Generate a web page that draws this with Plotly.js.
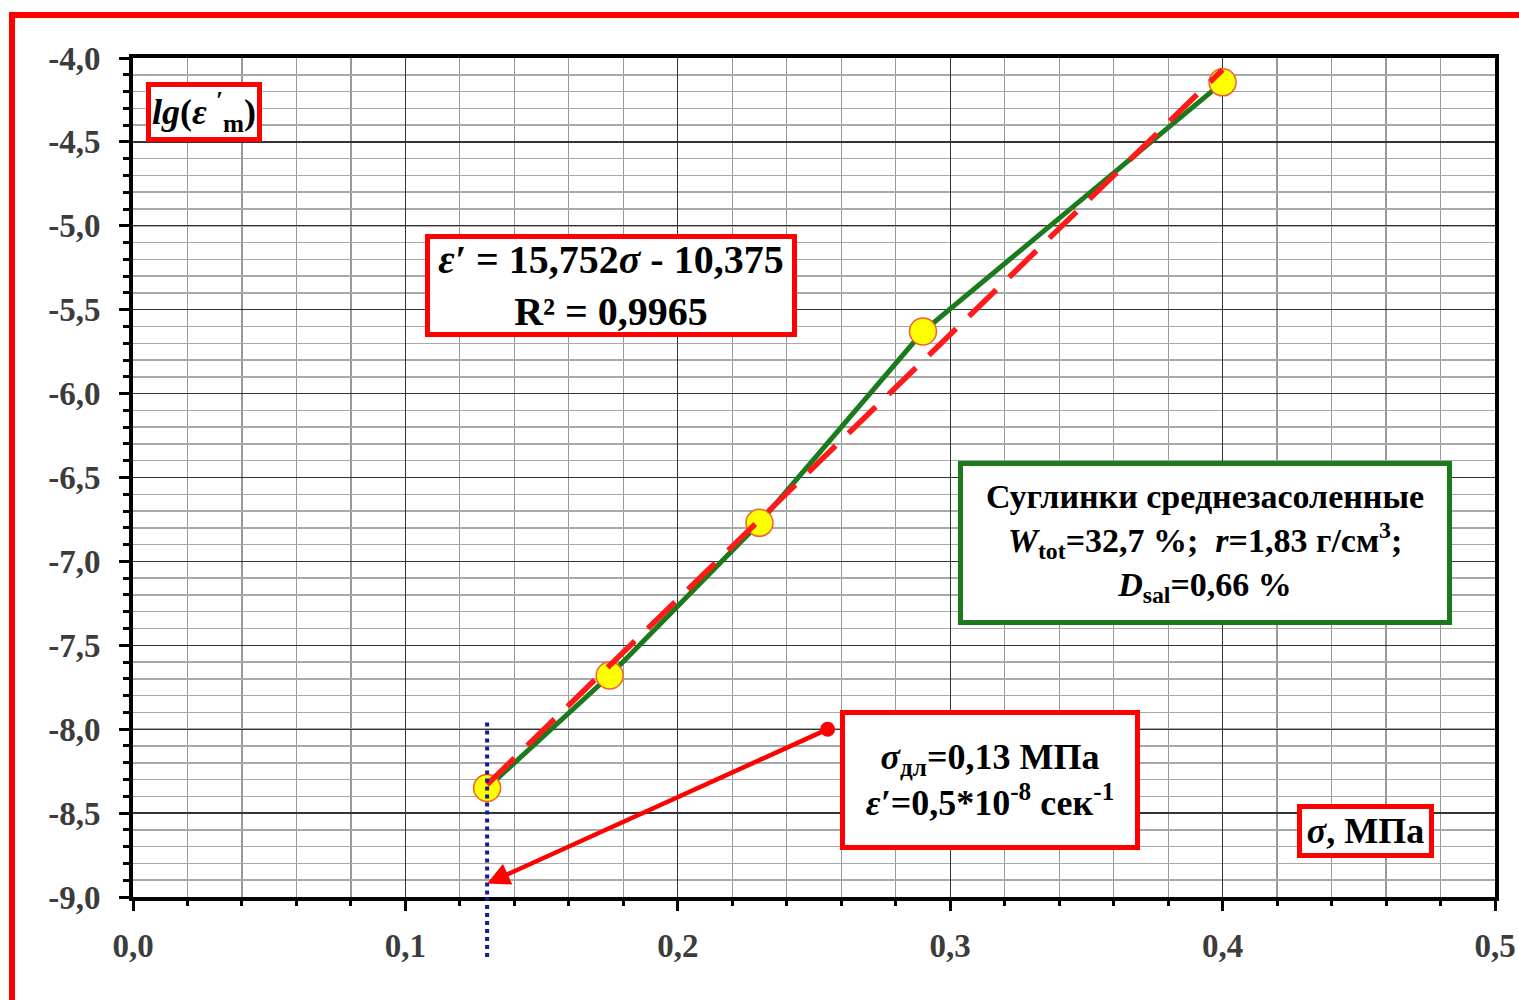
<!DOCTYPE html>
<html>
<head>
<meta charset="utf-8">
<script src="https://cdn.plot.ly/plotly-3.0.1.min.js"></script>
<style>
  html, body { margin: 0; padding: 0; background: #fff; overflow: hidden; }
  #chart { position: absolute; left: 0; top: 0; width: 1519px; height: 1000px; }
  #frame { position: absolute; left: 9px; top: 12px; width: 1600px; height: 1100px;
           border-left: 6px solid #ff0000; border-top: 6px solid #ff0000; pointer-events: none; }
</style>
</head>
<body>
<div id="chart"></div>
<div id="frame"></div>
<script>
// ---- data ----
const sigma = [0.13, 0.175, 0.23, 0.29, 0.40];            // σ, МПа
const lgStrainRate = [-8.35, -7.68, -6.77, -5.63, -4.145];  // lg(ε′m)
const trendSigma = [0.13, 0.40];
const trendLg = [-8.33, -4.07];
const sigmaDl = 0.13;           // long-term strength
const sigmaDlTop = -7.96;       // top of dotted marker line
const arrowStart = {x: 0.255, y: -8.0};
const arrowEnd = {x: 0.13, y: -8.92};

const xTickVals = [0, 0.1, 0.2, 0.3, 0.4, 0.5];
const xTickText = ["0,0", "0,1", "0,2", "0,3", "0,4", "0,5"];
const yTickVals = [-9, -8.5, -8, -7.5, -7, -6.5, -6, -5.5, -5, -4.5, -4];
const yTickText = ["-9,0", "-8,5", "-8,0", "-7,5", "-7,0", "-6,5", "-6,0", "-5,5", "-5,0", "-4,5", "-4,0"];

const serif = "Liberation Serif, Times New Roman, serif";

const traces = [
  {
    x: sigma, y: lgStrainRate, type: "scatter", mode: "lines+markers",
    line: {color: "#1b7a1b", width: 5},
    marker: {size: 27, color: "#ffff00", line: {color: "#f06030", width: 1.5}},
    showlegend: false, hoverinfo: "x+y"
  },
  {
    x: trendSigma, y: trendLg, type: "scatter", mode: "lines",
    line: {color: "#ff1a1a", width: 5.5, dash: "38px,18px"},
    showlegend: false, hoverinfo: "skip"
  },
  {
    x: [arrowStart.x], y: [arrowStart.y], type: "scatter", mode: "markers",
    marker: {size: 15, color: "#ff0000"}, showlegend: false, hoverinfo: "skip"
  }
];

const xMin = 0, xMax = 0.5;

const layout = {
  width: 1519, height: 1000,
  margin: {l: 133, r: 24, t: 58, b: 103},
  paper_bgcolor: "#ffffff", plot_bgcolor: "#ffffff",
  separators: ", ",
  font: {family: serif, color: "#000"},
  showlegend: false,
  xaxis: {
    range: [xMin, xMax], tickmode: "array", tickvals: xTickVals, ticktext: xTickText,
    ticks: "outside", ticklen: 10, tickwidth: 3, tickcolor: "#000",
    showline: true, linewidth: 4, linecolor: "#000", mirror: true,
    showgrid: true, gridcolor: "#333", gridwidth: 1.3, zeroline: false,
    tickfont: {family: serif, size: 33, color: "#3c3c3c", weight: "bold"},
    ticklabelstandoff: 6,
    minor: {dtick: 0.02, tick0: 0, ticks: "outside", ticklen: 5, tickwidth: 3, tickcolor: "#000",
            showgrid: true, gridcolor: "#999", gridwidth: 1.2}
  },
  yaxis: {
    range: [-9, -4], tickmode: "array", tickvals: yTickVals, ticktext: yTickText,
    ticks: "outside", ticklen: 10, tickwidth: 3, tickcolor: "#000",
    showline: true, linewidth: 4, linecolor: "#000", mirror: true,
    showgrid: true, gridcolor: "#333", gridwidth: 1.3, zeroline: false,
    tickfont: {family: serif, size: 33, color: "#3c3c3c", weight: "bold"},
    ticklabelstandoff: 12,
    minor: {dtick: 0.1, tick0: -9, ticks: "outside", ticklen: 6, tickwidth: 3, tickcolor: "#000",
            showgrid: true, gridcolor: "#a8a8a8", gridwidth: 1.5}
  },
  shapes: [
    {type: "line", xref: "paper", yref: "y", x0: (sigmaDl - xMin) / (xMax - xMin), x1: (sigmaDl - xMin) / (xMax - xMin),
     y0: sigmaDlTop, y1: -9, line: {color: "#1a1a99", width: 4, dash: "dot"}},
    {type: "line", xref: "paper", yref: "paper", x0: (sigmaDl - xMin) / (xMax - xMin), x1: (sigmaDl - xMin) / (xMax - xMin),
     y0: 0, y1: -0.072, line: {color: "#1a1a99", width: 4, dash: "dot"}}
  ],
  annotations: [
    {x: arrowEnd.x, y: arrowEnd.y, xref: "x", yref: "y", ax: arrowStart.x, ay: arrowStart.y,
     axref: "x", ayref: "y", showarrow: true, arrowhead: 2, arrowsize: 1, arrowwidth: 4.5,
     arrowcolor: "#ff0000", text: ""},
    {x: 0.1755, y: -5.353, xref: "x", yref: "y", showarrow: false,
     text: "<b><i>ε′</i> = 15,752<i>σ</i> - 10,375<br>R² = 0,9965</b>",
     font: {family: serif, size: 40, color: "#000"},
     bgcolor: "#fff", bordercolor: "#ff0000", borderwidth: 5, borderpad: 0, width: 362, height: 93},
    {x: 0.3935, y: -6.89, xref: "x", yref: "y", showarrow: false,
     text: "<b>Суглинки среднезасоленные<br><i>W</i><sub>tot</sub>=32,7 %;  <i>r</i>=1,83 г/см<sup>3</sup>;<br><i>D</i><sub>sal</sub>=0,66 %</b>",
     font: {family: serif, size: 34, color: "#000"},
     bgcolor: "#fff", bordercolor: "#1b7a1b", borderwidth: 5, borderpad: 0, width: 484, height: 154},
    {x: 0.3146, y: -8.303, xref: "x", yref: "y", showarrow: false,
     text: "<b><i>σ</i><sub>дл</sub>=0,13 МПа<br><i>ε′</i>=0,5*10<sup>-8</sup> сек<sup>-1</sup></b>",
     font: {family: serif, size: 36, color: "#000"},
     bgcolor: "#fff", bordercolor: "#ff0000", borderwidth: 5, borderpad: 0, width: 290, height: 130},
    {x: 0.026, y: -4.322, xref: "x", yref: "y", showarrow: false,
     text: "<b><i>lg</i>(<i>ε</i> <sup><i>′</i></sup><sub>m</sub>)</b>",
     font: {family: serif, size: 36, color: "#000"},
     bgcolor: "#fff", bordercolor: "#ff0000", borderwidth: 5, borderpad: 0, width: 106, height: 50},
    {x: 0.4523, y: -8.607, xref: "x", yref: "y", showarrow: false,
     text: "<b><i>σ</i>, МПа</b>",
     font: {family: serif, size: 36, color: "#000"},
     bgcolor: "#fff", bordercolor: "#ff0000", borderwidth: 5, borderpad: 0, width: 127, height: 44}
  ]
};

Plotly.newPlot("chart", traces, layout, {displayModeBar: false, staticPlot: true});
</script>
</body>
</html>
